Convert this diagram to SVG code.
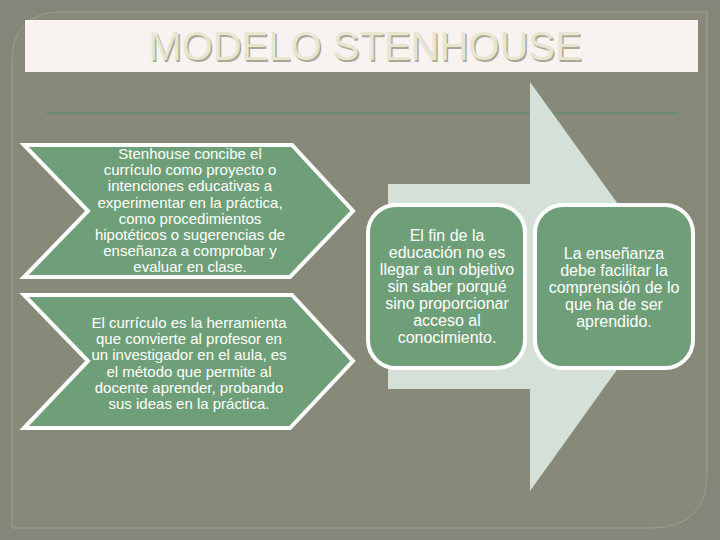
<svg xmlns="http://www.w3.org/2000/svg" width="720" height="540" viewBox="0 0 720 540">
  <defs>
    <style>
      .chev { fill: #6f9f78; stroke: #ffffff; stroke-width: 4; stroke-linejoin: miter; }
      .box { fill: #6f9f78; stroke: #ffffff; stroke-width: 4; }
      .t15 { font-family: "Liberation Sans", Arial, sans-serif; font-size: 15px; fill: #ffffff; text-anchor: middle; }
      .t16 { font-family: "Liberation Sans", Arial, sans-serif; font-size: 16px; fill: #ffffff; text-anchor: middle; }
      .title { font-family: "Liberation Sans", Arial, sans-serif; font-size: 40px; text-anchor: middle; }
    </style>
  </defs>

  <!-- background -->
  <rect x="0" y="0" width="720" height="540" fill="#85877a"/>
  <path d="M12,62 Q12,12 62,12 L707,12 L707,473 Q707,528 652,528 L12,528 Z" fill="#878979" stroke="#9c9e90" stroke-width="1"/>

  <!-- title band -->
  <g id="title">
    <rect x="25" y="20" width="673" height="52" fill="#f8f3f1"/>
    <text class="title" x="366.5" y="61.5" fill="#a9a995">MODELO STENHOUSE</text>
    <text class="title" x="365" y="60" fill="#e6e6d1">MODELO STENHOUSE</text>
  </g>

  <line x1="46" y1="113" x2="678" y2="113" stroke="#6e8a70" stroke-width="2"/>

  <!-- big background arrow -->
  <g id="connectors">
    <path d="M388,184 L530,184 L530,82 L677,286 L530,491 L530,389 L388,389 Z" fill="#d5e0d8"/>
  </g>

  <!-- chevron 1 -->
  <g id="chevron-1">
    <path class="chev" d="M24,145 L292,145 L353,211 L290,277 L24,277 L88,211 Z"/>
    <text class="t15" x="190" y="159">Stenhouse concibe el</text>
    <text class="t15" x="190" y="175.2">currículo como proyecto o</text>
    <text class="t15" x="190" y="191.4">intenciones educativas a</text>
    <text class="t15" x="190" y="207.6">experimentar en la práctica,</text>
    <text class="t15" x="190" y="223.8">como procedimientos</text>
    <text class="t15" x="190" y="240">hipotéticos o sugerencias de</text>
    <text class="t15" x="190" y="256.2">enseñanza a comprobar y</text>
    <text class="t15" x="190" y="272.4">evaluar en clase.</text>
  </g>

  <!-- chevron 2 -->
  <g id="chevron-2">
    <path class="chev" d="M24,295 L292,295 L353,361 L290,428 L24,428 L88,361 Z"/>
    <text class="t15" x="189" y="328">El currículo es la herramienta</text>
    <text class="t15" x="189" y="344.2">que convierte al profesor en</text>
    <text class="t15" x="189" y="360.4">un investigador en el aula, es</text>
    <text class="t15" x="189" y="376.6">el método que permite al</text>
    <text class="t15" x="189" y="392.8">docente aprender, probando</text>
    <text class="t15" x="189" y="409">sus ideas en la práctica.</text>
  </g>

  <!-- rounded box 1 -->
  <g id="box-1">
    <rect class="box" x="368" y="205" width="157" height="163" rx="28" ry="28"/>
    <text class="t16" x="447" y="241">El fin de la</text>
    <text class="t16" x="447" y="258">educación no es</text>
    <text class="t16" x="447" y="275">llegar a un objetivo</text>
    <text class="t16" x="447" y="292">sin saber porqué</text>
    <text class="t16" x="447" y="309">sino proporcionar</text>
    <text class="t16" x="447" y="326">acceso al</text>
    <text class="t16" x="447" y="343">conocimiento.</text>
  </g>

  <!-- rounded box 2 -->
  <g id="box-2">
    <rect class="box" x="535" y="205" width="158" height="163" rx="28" ry="28"/>
    <text class="t16" x="614" y="259">La enseñanza</text>
    <text class="t16" x="614" y="276">debe facilitar la</text>
    <text class="t16" x="614" y="293">comprensión de lo</text>
    <text class="t16" x="614" y="310">que ha de ser</text>
    <text class="t16" x="614" y="327">aprendido.</text>
  </g>
</svg>
